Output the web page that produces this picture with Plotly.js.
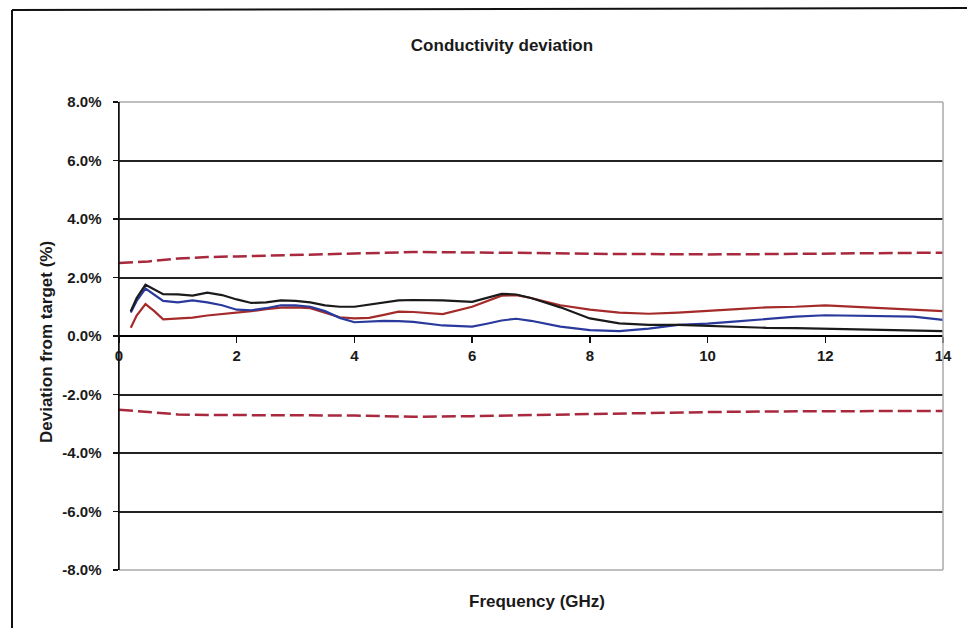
<!DOCTYPE html>
<html><head><meta charset="utf-8">
<script src="https://cdn.plot.ly/plotly-3.0.1.min.js"></script>
<style>html,body{margin:0;padding:0;background:#fff}#chart{width:967px;height:628px}</style>
</head><body><div id="chart"></div>
<script>
const freq = [0.2,0.3,0.45,0.6,0.75,1.0,1.25,1.5,1.75,2.0,2.25,2.5,2.75,3.0,3.25,3.5,3.75,4.0,4.25,4.5,4.75,5.0,5.5,6.0,6.25,6.5,6.75,7.0,7.5,8.0,8.5,9.0,9.5,10.0,10.5,11.0,11.5,12.0,12.5,13.0,13.5,14.0];
const blackSeries = [0.85,1.3,1.75,1.6,1.43,1.42,1.38,1.48,1.4,1.25,1.13,1.15,1.22,1.2,1.15,1.05,1.0,1.0,1.08,1.15,1.22,1.23,1.22,1.17,1.3,1.44,1.42,1.3,0.98,0.6,0.43,0.38,0.38,0.34,0.3,0.28,0.27,0.25,0.24,0.2,0.18,0.17];
const blueSeries = [0.8,1.2,1.62,1.4,1.2,1.15,1.22,1.15,1.05,0.9,0.88,0.95,1.05,1.05,1.0,0.85,0.62,0.47,0.5,0.52,0.51,0.48,0.36,0.32,0.42,0.53,0.59,0.52,0.32,0.2,0.17,0.25,0.38,0.42,0.5,0.58,0.66,0.71,0.7,0.68,0.66,0.55];
const redSeries = [0.28,0.7,1.09,0.85,0.57,0.6,0.63,0.7,0.75,0.78,0.85,0.92,0.97,0.98,0.95,0.8,0.64,0.6,0.62,0.72,0.83,0.82,0.75,1.0,1.2,1.38,1.4,1.3,1.05,0.9,0.8,0.76,0.8,0.85,0.92,0.98,1.0,1.05,1.0,0.95,0.88,0.85];
const limitFreq = [0,0.5,1,1.5,2,3,4,5,6,7,8,9,10,11,12,13,14];
const upperLimit = [2.5,2.55,2.65,2.7,2.72,2.76,2.82,2.87,2.86,2.84,2.81,2.79,2.79,2.8,2.81,2.83,2.85];
const lowerLimit = [-2.52,-2.6,-2.68,-2.7,-2.71,-2.71,-2.72,-2.76,-2.74,-2.7,-2.66,-2.62,-2.6,-2.58,-2.58,-2.57,-2.56];
const yTickVals = [8,6,4,2,0,-2,-4,-6,-8];
const yTickText = ['8.0%','6.0%','4.0%','2.0%','0.0%','-2.0%','-4.0%','-6.0%','-8.0%'];
const xTickVals = [0,2,4,6,8,10,12,14];

const FAM = 'Liberation Sans, Arial, sans-serif';
const tickFont = {family:FAM, size:15, color:'#1a1a1a', weight:'bold'};
const traces = [
  {x:limitFreq, y:upperLimit, mode:'lines', line:{color:'#a8283e', width:2.5, dash:'14px,5px'}},
  {x:limitFreq, y:lowerLimit, mode:'lines', line:{color:'#a8283e', width:2.5, dash:'14px,5px'}},
  {x:freq, y:redSeries, mode:'lines', line:{color:'#a52a2a', width:2.2}},
  {x:freq, y:blueSeries, mode:'lines', line:{color:'#2a3a9c', width:2.2}},
  {x:freq, y:blackSeries, mode:'lines', line:{color:'#1a1a1a', width:2.2}}
];
const layout = {
  width:967, height:628, showlegend:false,
  paper_bgcolor:'#fff', plot_bgcolor:'#fff',
  margin:{l:119, r:24, t:102, b:58},
  font:{family:FAM, size:15, color:'#1a1a1a'},
  title:{text:'<b>Conductivity deviation</b>', x:502/967, xanchor:'center', y:1-45/628, yanchor:'middle', font:{family:FAM, size:17, color:'#1a1a1a'}},
  xaxis:{range:[0,14], tickvals:xTickVals, ticks:'outside', ticklen:6, tickcolor:'#111', tickwidth:1.5,
    showgrid:false, zeroline:false, showline:false, anchor:'free', position:0.5,
    tickfont:tickFont},
  yaxis:{range:[-8,8], tickvals:yTickVals, ticktext:yTickText, ticks:'outside', ticklen:5, tickcolor:'#111', tickwidth:1.5,
    showgrid:true, gridcolor:'#222', gridwidth:2, zeroline:true, zerolinecolor:'#000', zerolinewidth:2.5,
    showline:true, linecolor:'#111', linewidth:1.5, ticklabelstandoff:8,
    tickfont:tickFont},
  annotations:[
    {text:'<b>Frequency (GHz)</b>', xref:'paper', yref:'paper', x:(537-119)/824, y:(570-601)/468, xanchor:'center', yanchor:'middle', showarrow:false, font:{family:FAM, size:17, color:'#1a1a1a'}},
    {text:'<b>Deviation from target (%)</b>', textangle:-90, xref:'paper', yref:'paper', x:(46-119)/824, y:(570-342)/468, xanchor:'center', yanchor:'middle', showarrow:false, font:{family:FAM, size:17, color:'#1a1a1a'}}
  ],
  shapes:[
    {type:'line', xref:'paper', yref:'paper', x0:0, x1:1, y0:1, y1:1, line:{color:'#aaa', width:1.5}},
    {type:'line', xref:'paper', yref:'paper', x0:0, x1:1, y0:0, y1:0, line:{color:'#aaa', width:1.5}},
    {type:'line', xref:'paper', yref:'paper', x0:1, x1:1, y0:0, y1:1, line:{color:'#aaa', width:1.5}},
    {type:'line', xref:'paper', yref:'paper', x0:0, x1:0, y0:0, y1:1, line:{color:'#111', width:1.5}},
    {type:'line', xref:'paper', yref:'paper', x0:(12-119)/824, x1:(12-119)/824, y0:(570-10)/468, y1:(570-640)/468, line:{color:'#111', width:2}},
    {type:'line', xref:'paper', yref:'paper', x0:(12-119)/824, x1:(980-119)/824, y0:(570-10)/468, y1:(570-8)/468, line:{color:'#111', width:2}}
  ]
};
Plotly.newPlot('chart', traces, layout, {staticPlot:true, displayModeBar:false});
</script></body></html>
